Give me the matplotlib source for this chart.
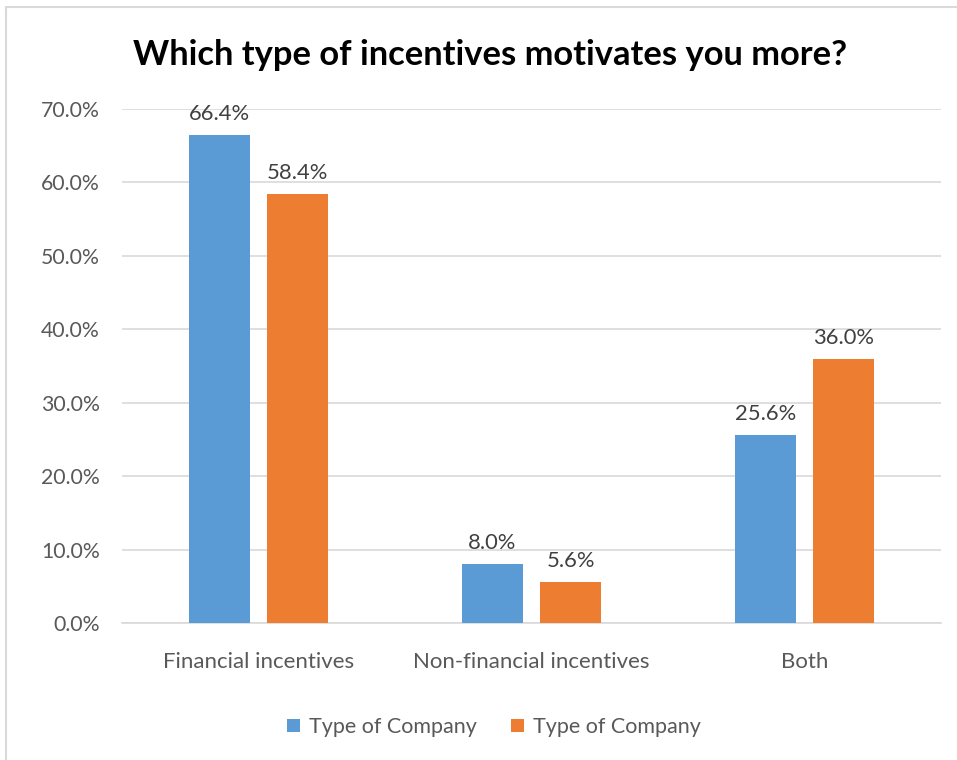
import matplotlib.pyplot as plt
from matplotlib.patches import Rectangle
from matplotlib.ticker import PercentFormatter

plt.rcParams['font.family'] = ['Lato', 'DejaVu Sans']

categories = ['Financial incentives', 'Non-financial incentives', 'Both']
series_a = [66.4, 8.0, 25.6]
series_b = [58.4, 5.6, 36.0]
series_names = ['Type of Company', 'Type of Company']

blue = '#5B9BD5'
orange = '#ED7D31'
grey_text = '#595959'

fig = plt.figure(figsize=(9.57, 7.6), dpi=100)
ax = fig.add_axes([122 / 957, 1 - 623 / 760, (941 - 122) / 957, (623 - 109) / 760])

# outer chart frame
fig.patches.append(Rectangle((6 / 957, -0.01), 1.0, 1 - 7 / 760 + 0.01, transform=fig.transFigure,
                             fill=False, edgecolor='#D9D9D9', linewidth=1.5))

x = range(len(categories))
w = 0.224
off = 0.143
bars_a = ax.bar([i - off for i in x], series_a, w, color=blue, label=series_names[0], zorder=3)
bars_b = ax.bar([i + off for i in x], series_b, w, color=orange, label=series_names[1], zorder=3)

for bars in (bars_a, bars_b):
    for b in bars:
        ax.text(b.get_x() + b.get_width() / 2, b.get_height() + 1.5, f'{b.get_height():.1f}%',
                ha='center', va='bottom', fontsize=15.8, color='#404040')

ax.set_xlim(-0.5, 2.5)
ax.set_ylim(0, 70)
ax.set_yticks(range(0, 71, 10))
ax.yaxis.set_major_formatter(PercentFormatter(decimals=1))
ax.set_xticks(list(x))
ax.set_xticklabels(categories, fontsize=16)
ax.grid(axis='y', color='#D9D9D9', linewidth=1.2, zorder=0)
for s in ['top', 'right', 'left']:
    ax.spines[s].set_visible(False)
ax.spines['bottom'].set_color('#D9D9D9')
ax.spines['bottom'].set_linewidth(1.2)
ax.tick_params(axis='both', length=0, colors=grey_text)
ax.tick_params(axis='y', labelsize=15.3, pad=16)
ax.tick_params(axis='x', pad=21)

fig.text(490 / 957, 1 - 55 / 760, 'Which type of incentives motivates you more?',
         ha='center', va='center', fontsize=24.8, fontweight='bold', color='black')

fig.legend(loc='center', bbox_to_anchor=(494 / 957, 1 - 727 / 760), ncol=2, frameon=False,
           fontsize=15.5, labelcolor=grey_text, handlelength=0.6, handleheight=0.6,
           handletextpad=0.4, columnspacing=1.6)

fig.savefig('out.png', dpi=100)
